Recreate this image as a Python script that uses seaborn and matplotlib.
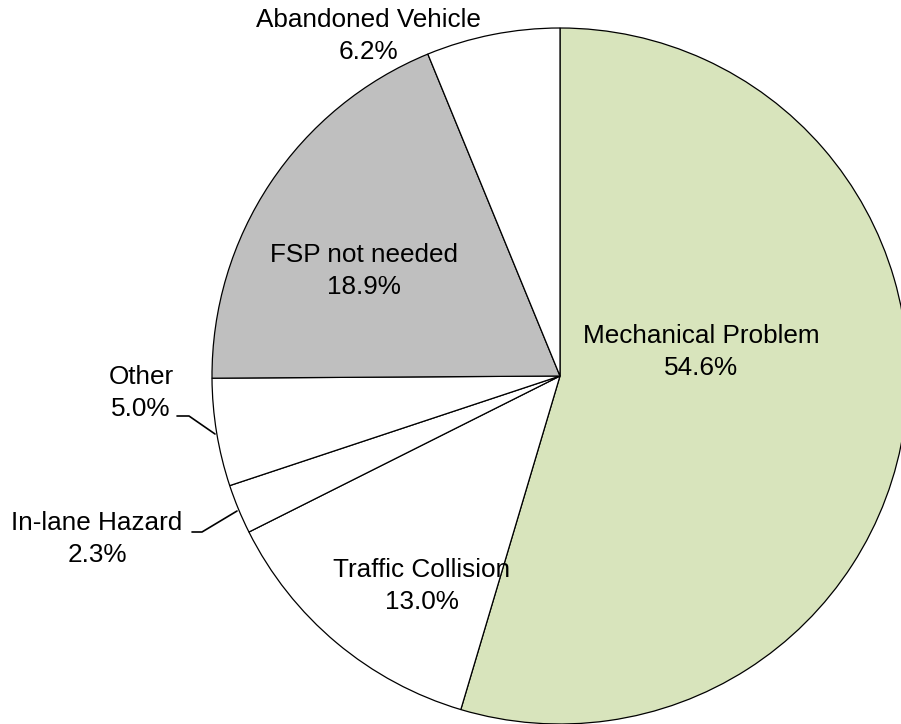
import matplotlib
matplotlib.use("Agg")
import matplotlib.pyplot as plt
import seaborn as sns

# data
categories = ["Mechanical Problem", "Traffic Collision", "In-lane Hazard",
              "Other", "FSP not needed", "Abandoned Vehicle"]
shares = [54.6, 13.0, 2.3, 5.0, 18.9, 6.2]
slice_colors = ["#D8E4BC", "#FFFFFF", "#FFFFFF", "#FFFFFF", "#BFBFBF", "#FFFFFF"]

sns.set_theme(style="white")
plt.rcParams['font.family'] = ['Liberation Sans', 'DejaVu Sans']

W, H = 901, 724
fig = plt.figure(figsize=(W / 100, H / 100), dpi=100)

# pie centre and radius in pixels
cx, cy, r = 560, 376, 348
ax = fig.add_axes([(cx - r) / W, (H - cy - r) / H, 2 * r / W, 2 * r / H])

ax.pie(shares, colors=slice_colors, startangle=90, counterclock=False,
       radius=1, wedgeprops=dict(edgecolor="black", linewidth=0.9))
ax.set_xlim(-1, 1)
ax.set_ylim(-1, 1)
ax.set_aspect("auto")
ax.axis("off")


def px(x, y):
    # pixel position -> data coords of the pie axes
    return (x - cx) / r, (cy - y) / r


# label positions (pixels, centre of the two-line block)
label_pos = {
    "Mechanical Problem": (701, 352),
    "Traffic Collision": (422, 586),
    "In-lane Hazard": (97, 539),
    "Other": (141, 393),
    "FSP not needed": (364, 271),
    "Abandoned Vehicle": (368, 36),
}

for name, val in zip(categories, shares):
    x, y = px(*label_pos[name])
    ax.text(x, y, f"{name}\n{val:.1f}%", ha="center", va="center",
            fontsize=18.8, color="black", linespacing=1.38)

# leader lines
for pts in ([(177, 416), (189, 416), (215, 434)],
            [(192, 532), (202, 532), (237, 511)]):
    xs, ys = zip(*[px(*p) for p in pts])
    ax.plot(xs, ys, color="black", linewidth=1.2, clip_on=False)

fig.savefig("out.png", dpi=100)
